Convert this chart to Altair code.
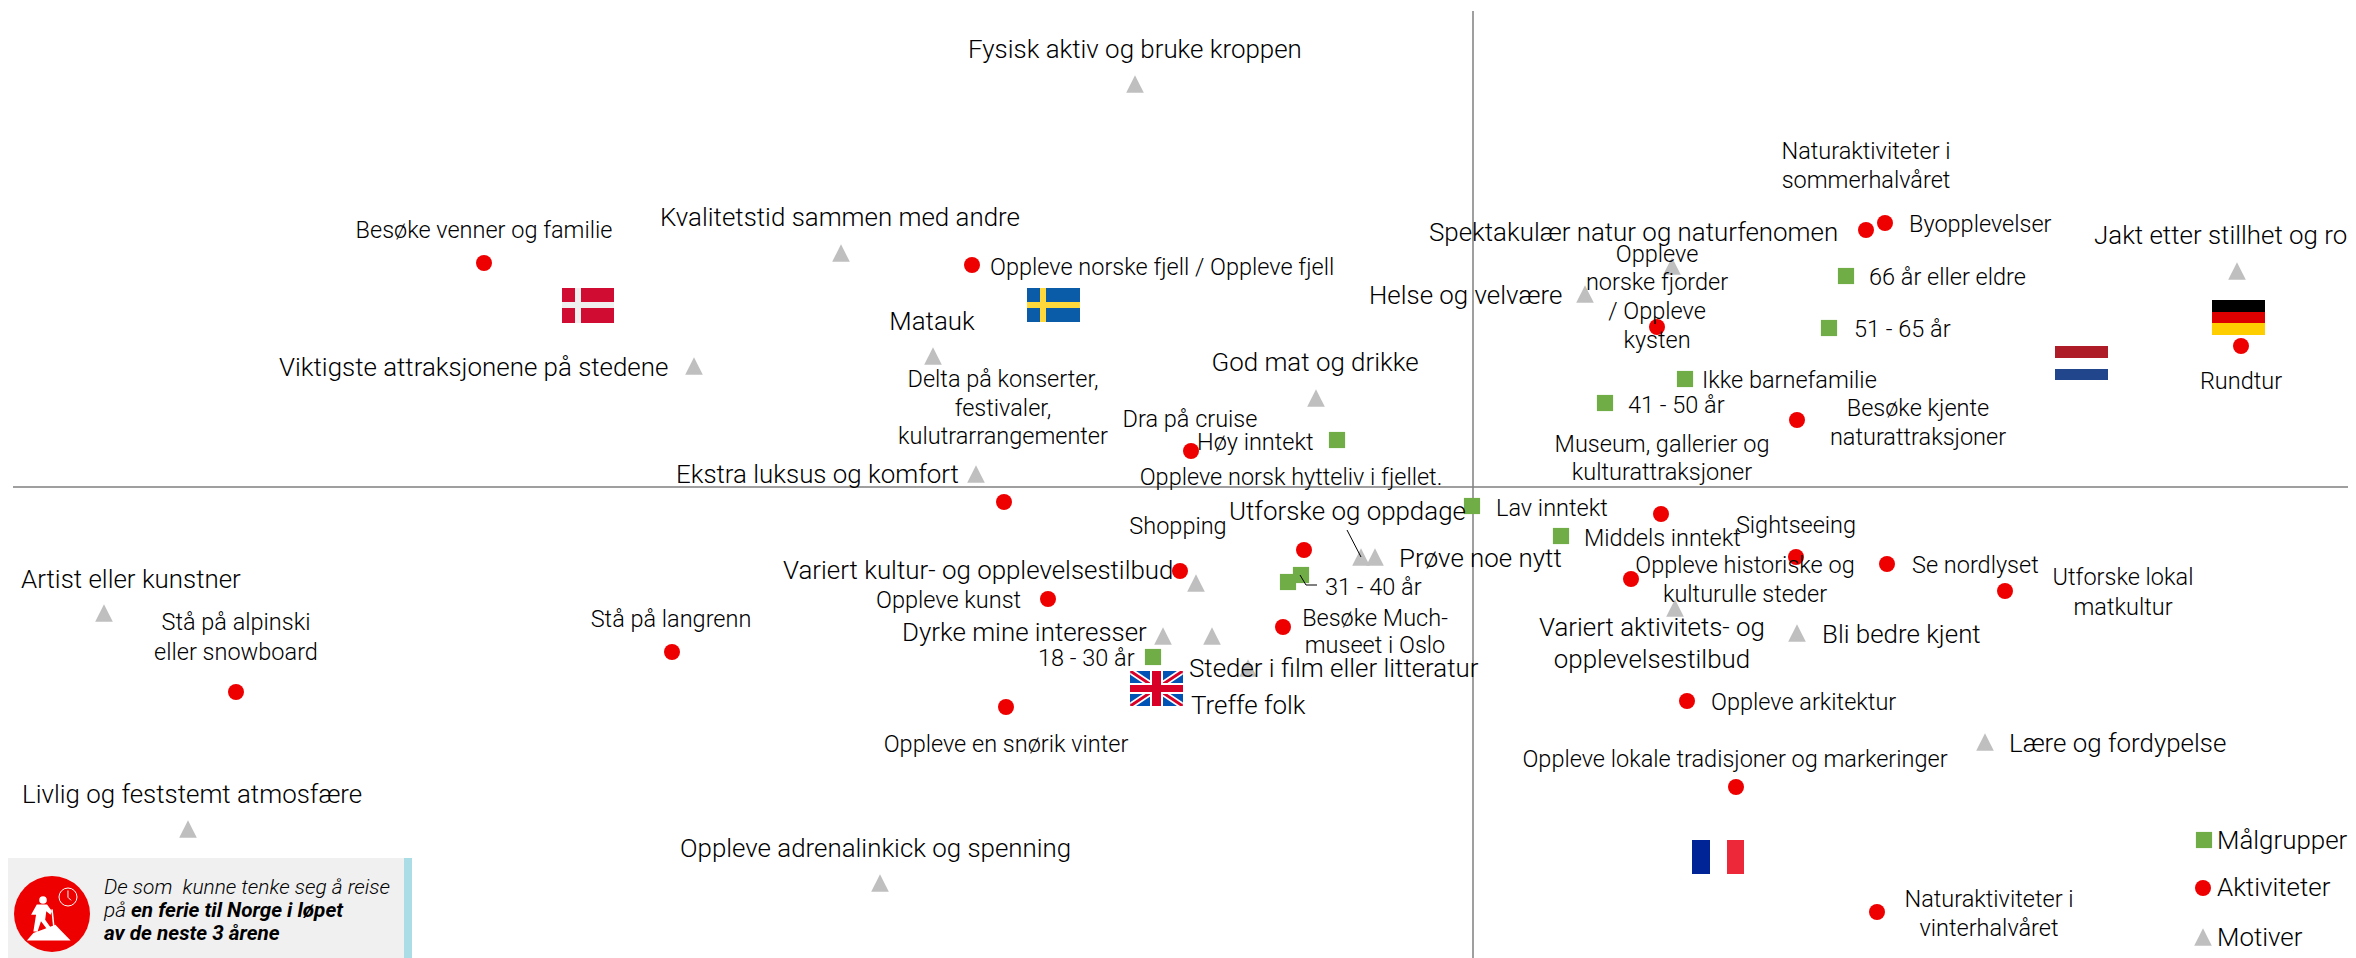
import altair as alt
import pandas as pd

# ---------- data (in the picture's own x/y units) ----------
maalgrupper = ["Høy inntekt", "66 år eller eldre", "51 - 65 år", "Ikke barnefamilie", "41 - 50 år", "Lav inntekt",
               "Middels inntekt", "31 - 40 år", "Barnefamilie", "18 - 30 år"]
maalgrupper_x = [1337, 1846, 1829, 1685, 1605, 1472, 1561, 1301, 1288, 1153]
maalgrupper_y = [440, 276, 328, 379, 403, 506, 536, 575, 582, 657]

aktiviteter = ["Besøke venner og familie", "Oppleve norske fjell", "Dra på cruise", "Oppleve fjorder", "Naturaktiviteter sommer",
               "Byopplevelser", "Besøke kjente naturattraksjoner", "Rundtur", "Oppleve norsk hytteliv", "Shopping",
               "Oppleve kunst", "Besøke Much-museet", "Stå på alpinski", "Stå på langrenn", "Snørik vinter",
               "Utforske ukjent", "Museum", "Sightseeing", "Historiske steder", "Se nordlyset", "Lokal matkultur",
               "Oppleve arkitektur", "Lokale tradisjoner", "Naturaktiviteter vinter"]
aktiviteter_x = [484, 972, 1191, 1657, 1866, 1885, 1797, 2241, 1004, 1180, 1048, 1283, 236, 672, 1006,
                 1304, 1661, 1796, 1631, 1887, 2005, 1687, 1736, 1877]
aktiviteter_y = [263, 265, 451, 327, 230, 223, 420, 346, 502, 571, 599, 627, 692, 652, 707,
                 550, 514, 557, 579, 564, 591, 701, 787, 912]

motiver = ["Fysisk aktiv", "Kvalitetstid", "Viktigste attraksjonene", "Matauk", "God mat", "Ekstra luksus", "Helse",
           "Spektakulær natur", "Jakt etter stillhet", "Utforske", "Prøve noe nytt", "Variert kultur", "Dyrke interesser",
           "Steder i film", "Treffe folk", "Variert aktivitet", "Bli bedre kjent", "Lære", "Artist", "Livlig",
           "Adrenalin"]
motiver_x = [1135, 841, 694, 933, 1316, 976, 1585, 1672, 2237, 1361, 1375, 1196, 1163, 1248, 1212, 1675, 1797, 1985, 104, 188, 880]
motiver_y = [84, 253, 366, 356, 398, 474, 294, 266, 271, 557, 557, 583, 636, 668, 636, 608, 633, 742, 613, 829, 883]

# big labels: motives and legend
store_venstre = ["Kvalitetstid sammen med andre", "Utforske og oppdage", "Prøve noe nytt", "Steder i film eller litteratur", "Treffe folk",
                 "Bli bedre kjent", "Lære og fordypelse", "Artist eller kunstner", "Livlig og feststemt atmosfære",
                 "Oppleve adrenalinkick og spenning", "Spektakulær natur og naturfenomen", "Helse og velvære",
                 "Jakt etter stillhet og ro", "Viktigste attraksjonene på stedene", "Ekstra luksus og komfort",
                 "Variert kultur- og opplevelsestilbud", "Dyrke mine interesser", "Fysisk aktiv og bruke kroppen",
                 "Målgrupper", "Aktiviteter", "Motiver"]
store_venstre_x = [660, 1229, 1399, 1189, 1191, 1822, 2009, 21, 22, 680, 1429, 1369, 2094, 279, 676, 783, 902, 968, 2217, 2217, 2217]
store_venstre_y = [217, 511, 558, 668, 705, 634, 743, 579, 794, 848, 232, 295, 235, 367, 474, 570, 632, 49, 840, 887, 937]

store_midt = ["Matauk", "God mat og drikke", "Variert aktivitets- og", "opplevelsestilbud"]
store_midt_x = [932, 1315, 1652, 1652]
store_midt_y = [321, 362, 627, 659]

# small labels: activities and target groups
sma_venstre = ["Oppleve norske fjell / Oppleve fjell", "Høy inntekt", "Byopplevelser", "66 år eller eldre", "51 - 65 år",
               "Ikke barnefamilie", "41 - 50 år", "Lav inntekt", "Middels inntekt", "31 - 40 år", "Oppleve kunst",
               "18 - 30 år", "Se nordlyset", "Oppleve arkitektur"]
sma_venstre_x = [990, 1197, 1909, 1869, 1854, 1702, 1628, 1496, 1584, 1325, 876, 1038, 1912, 1711]
sma_venstre_y = [266, 441, 223, 276, 328, 379, 404, 507, 537, 586, 599, 657, 564, 701]

sma_midt = ["Besøke venner og familie", "Delta på konserter,", "festivaler,", "kulutrarrangementer", "Dra på cruise",
            "Oppleve norsk hytteliv i fjellet.", "Naturaktiviteter i", "sommerhalvåret", "Oppleve", "norske fjorder",
            "/ Oppleve", "kysten", "Besøke kjente", "naturattraksjoner", "Museum, gallerier og", "kulturattraksjoner",
            "Rundtur", "Shopping", "Besøke Much-", "museet i Oslo", "Oppleve en snørik vinter", "Stå på alpinski",
            "eller snowboard", "Stå på langrenn", "Sightseeing", "Oppleve historiske og", "kulturulle steder",
            "Utforske lokal", "matkultur", "Oppleve lokale tradisjoner og markeringer", "Naturaktiviteter i",
            "vinterhalvåret"]
sma_midt_x = [484, 1003, 1003, 1003, 1190, 1291, 1866, 1866, 1657, 1657, 1657, 1657, 1918, 1918, 1662, 1662,
              2241, 1178, 1375, 1375, 1006, 236, 236, 671, 1796, 1745, 1745, 2123, 2123, 1735, 1989, 1989]
sma_midt_y = [229, 378, 407, 435, 418, 476, 150, 179, 253, 281, 310, 339, 407, 436, 443, 471,
              380, 525, 617, 644, 743, 621, 651, 618, 524, 564, 593, 576, 606, 758, 898, 927]

# legend symbols
legende_x = [2204, 2203, 2203]
legende_y = [840, 888, 937]

# axes through the origin
akse_h_x, akse_h_x2, akse_h_y = [13], [2348], [487]
akse_v_x, akse_v_y, akse_v_y2 = [1473], [11], [958]

# leader lines
ledere = [[(1347, 530), (1361, 557)], [(1300, 575), (1306, 585), (1317, 585)]]

# flags: stripes as x, x2, y, y2, colour
flagg_rect = [
    # Denmark
    (562, 614, 288, 323, "#D00C33"), (575, 581, 288, 323, "#EFEFEF"), (562, 614, 302, 308, "#EFEFEF"),
    # Sweden
    (1027, 1080, 288, 322, "#0A5BA8"), (1040, 1046, 288, 322, "#FFD83B"), (1027, 1080, 302, 308, "#FFD83B"),
    # Netherlands
    (2055, 2108, 346, 358, "#AE1C28"), (2055, 2108, 358, 369, "#FFFFFF"), (2055, 2108, 369, 380, "#21468B"),
    # Germany
    (2212, 2265, 300, 312, "#000000"), (2212, 2265, 312, 323, "#DD0000"), (2212, 2265, 323, 335, "#FFCE00"),
    # France
    (1692, 1710, 840, 874, "#002395"), (1710, 1727, 840, 874, "#FFFFFF"), (1727, 1744, 840, 874, "#ED2939"),
    # United Kingdom
    (1130, 1183, 671, 706, "#0052B4"),
]
uk_senter = (1156.5, 688.5)
uk_diag_hvit = "M-1,-0.67L-0.78,-0.67L1,0.52L1,0.67L0.78,0.67L-1,-0.52ZM1,-0.67L0.78,-0.67L-1,0.52L-1,0.67L-0.78,0.67L1,-0.52Z"
uk_diag_rod = "M-1,-0.67L-0.9,-0.67L1,0.6L1,0.67L0.9,0.67L-1,-0.6ZM1,-0.67L0.9,-0.67L-1,0.6L-1,0.67L-0.9,0.67L1,-0.6Z"
uk_kors = [(1130, 1183, 683, 694, "#FFFFFF"), (1150, 1163, 671, 706, "#FFFFFF"),
           (1130, 1183, 685, 692, "#D80027"), (1152, 1161, 671, 706, "#D80027")]

# note box
boks = [(0, 404, 858, 958, "#F0F0F0"), (404, 412, 858, 958, "#ABDDE6")]
ikon_x, ikon_y = 52, 914
ikon_kropp = ("M-0.66,0.70L-0.49,0.50L-0.22,0.40L0.09,0.28L0.22,0.42L0.49,0.70Z"
              "M-0.40,-0.25L-0.13,-0.25L0,-0.07L-0.04,0.02L-0.15,-0.07L-0.18,0.15L-0.04,0.35L-0.13,0.40"
              "L-0.29,0.19L-0.38,0.46L-0.49,0.46L-0.42,0.02L-0.55,0.02Z")
ikon_stav = "M0.0,-0.12L0.05,0.35"
ikon_visere = "M0.42,-0.62L0.42,-0.44L0.50,-0.36"
note_tekst = ["De som\u00a0 kunne tenke seg å reise", "på "]
note_tekst_x = [104, 104]
note_tekst_y = [888, 911]
note_fet = ["en ferie til Norge i løpet", "av de neste 3 årene"]
note_fet_x = [131, 104]
note_fet_y = [911, 934]

# ---------- colours / fonts ----------
GREEN, RED, GREY, AXIS, INK = "#70AD47", "#EE0000", "#BFBFBF", "#7F7F7F", "#000000"
FONT = "Roboto"
TRIANGLE = "M0,-1L1,1L-1,1Z"

xs = alt.Scale(domain=[8, 2348], nice=False, zero=False)
ys = alt.Scale(domain=[958, 8], nice=False, zero=False)


def X(f="x"):
    return alt.X(f"{f}:Q", scale=xs, axis=None)


def Y(f="y"):
    return alt.Y(f"{f}:Q", scale=ys, axis=None)


def pts(xv, yv, shape, colour, size, names=None):
    d = pd.DataFrame({"x": xv, "y": yv})
    if names is not None:
        d["navn"] = names
    return alt.Chart(d).mark_point(shape=shape, filled=True, opacity=1, color=colour, size=size, strokeWidth=0).encode(x=X(), y=Y())


def rects(rows):
    d = pd.DataFrame(rows, columns=["x", "x2", "y", "y2", "c"])
    return alt.Chart(d).mark_rect(strokeWidth=0).encode(
        x=X(), x2="x2:Q", y=Y(), y2="y2:Q", color=alt.Color("c:N", scale=None))


def txt(texts, xv, yv, size, align="left", **kw):
    d = pd.DataFrame({"t": texts, "x": xv, "y": yv})
    return alt.Chart(d).mark_text(font=FONT, fontSize=size, align=align, baseline="middle", color=INK, **kw).encode(
        x=X(), y=Y(), text="t:N")


layers = [
    rects(flagg_rect),
    pts([uk_senter[0]], [uk_senter[1]], uk_diag_hvit, "#FFFFFF", 2756),
    pts([uk_senter[0]], [uk_senter[1]], uk_diag_rod, "#D80027", 2756),
    rects(uk_kors),
    rects(boks),
    pts([ikon_x], [ikon_y], "circle", RED, 5776),
    pts([ikon_x], [ikon_y], ikon_kropp, "#FFFFFF", 5776),
    pts([ikon_x - 9], [ikon_y - 14], "circle", "#FFFFFF", 58),
]
layers.append(alt.Chart(pd.DataFrame({"x": [ikon_x], "y": [ikon_y]})).mark_point(
    shape=ikon_stav, color="#FFFFFF", size=5776, strokeWidth=1.5, opacity=1).encode(x=X(), y=Y()))
layers.append(alt.Chart(pd.DataFrame({"x": [ikon_x + 16], "y": [ikon_y - 17]})).mark_point(
    shape="circle", color="#FFFFFF", size=324, strokeWidth=1, opacity=1).encode(x=X(), y=Y()))
layers.append(alt.Chart(pd.DataFrame({"x": [ikon_x], "y": [ikon_y]})).mark_point(
    shape=ikon_visere, color="#FFFFFF", size=5776, strokeWidth=1, opacity=1).encode(x=X(), y=Y()))

layers += [
    alt.Chart(pd.DataFrame({"x": akse_h_x, "x2": akse_h_x2, "y": akse_h_y})).mark_rule(color=AXIS, strokeWidth=1.5).encode(x=X(), x2="x2:Q", y=Y()),
    alt.Chart(pd.DataFrame({"x": akse_v_x, "y": akse_v_y, "y2": akse_v_y2})).mark_rule(color=AXIS, strokeWidth=1.5).encode(x=X(), y=Y(), y2="y2:Q"),
    pts(motiver_x, motiver_y, TRIANGLE, GREY, 310, motiver),
    pts(maalgrupper_x, maalgrupper_y, "square", GREEN, 262, maalgrupper),
    pts(aktiviteter_x, aktiviteter_y, "circle", RED, 256, aktiviteter),
    pts([legende_x[0]], [legende_y[0]], "square", GREEN, 262),
    pts([legende_x[1]], [legende_y[1]], "circle", RED, 256),
    pts([legende_x[2]], [legende_y[2]], TRIANGLE, GREY, 310),
]
for i, leder in enumerate(ledere):
    d = pd.DataFrame(leder, columns=["x", "y"]).assign(o=lambda f: range(len(f)))
    layers.append(alt.Chart(d).mark_line(color="#000000", strokeWidth=1).encode(x=X(), y=Y(), order="o:Q"))

layers += [
    txt(store_venstre, store_venstre_x, store_venstre_y, 25.9, fontWeight=300, dy=0.5),
    txt(store_midt, store_midt_x, store_midt_y, 25.9, "center", fontWeight=300, dy=0.5),
    txt(sma_venstre, sma_venstre_x, sma_venstre_y, 23.5, fontWeight=300, dy=1.5),
    txt(sma_midt, sma_midt_x, sma_midt_y, 23.5, "center", fontWeight=300, dy=1.5),
    txt(note_tekst, note_tekst_x, note_tekst_y, 20.9, fontStyle="italic", fontWeight=300),
    txt(note_fet, note_fet_x, note_fet_y, 20.7, fontStyle="italic", fontWeight="bold"),
]

chart = alt.layer(*layers).properties(
    width=2340, height=950, padding=0, background="#FFFFFF",
    autosize=alt.AutoSizeParams(type="none"),
).configure_view(stroke=None)

chart.save("out.html", embed_options={"renderer": "svg", "actions": False})
